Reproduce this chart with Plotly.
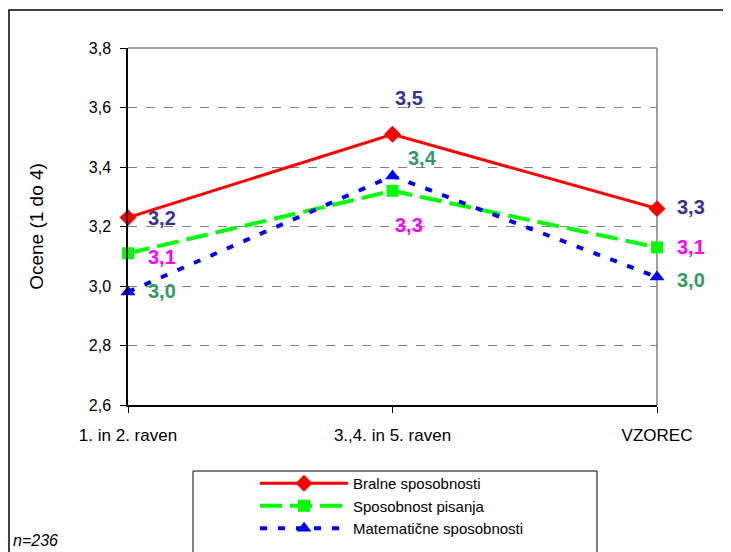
import plotly.graph_objects as go

categories = ["1. in 2. raven", "3.,4. in 5. raven", "VZOREC"]
series_names = ["Bralne sposobnosti", "Sposobnost pisanja", "Matematične sposobnosti"]
bralne = [3.23, 3.51, 3.26]
pisanje = [3.11, 3.32, 3.13]
matematika = [2.98, 3.37, 3.03]
y_ticks = [2.6, 2.8, 3.0, 3.2, 3.4, 3.6, 3.8]
note = "n=236"

W, H = 731, 552
S = 8  # page body offset
L, R, T, B = 128 - S, 657 - S, 48 - S, 405 - S

def fmt(v):
    return f"{v:.1f}".replace(".", ",")

FONT = "Liberation Sans, Arial"

fig = go.Figure()
styles = [
    dict(color="#FF0000", width=3, dash="solid", symbol="diamond", size=13),
    dict(color="#00FF00", width=4, dash="22px,8px", symbol="square", size=12),
    dict(color="#0000FF", width=4, dash="7px,11px", symbol="triangle-up", size=13),
]
xs = [0, 1, 2]
for name, vals, st in zip(series_names, [bralne, pisanje, matematika], styles):
    fig.add_trace(go.Scatter(
        x=xs, y=vals, name=name, mode="lines+markers",
        line=dict(color=st["color"], width=st["width"], dash=st["dash"]),
        marker=dict(symbol=st["symbol"], size=st["size"], color=st["color"]),
        cliponaxis=False,
    ))

label_colors = ["#333399", "#FF00FF", "#339966"]
offsets = [
    [(34, 0), (16, 36), (34, 2)],
    [(34, -4), (16, -34), (34, 0)],
    [(34, 1), (30, 18), (34, -3)],
]
for vals, col, offs in zip([bralne, pisanje, matematika], label_colors, offsets):
    for i, v in enumerate(vals):
        fig.add_annotation(
            x=xs[i], y=v, text="<b>" + fmt(v) + "</b>", showarrow=False,
            xshift=offs[i][0], yshift=offs[i][1],
            font=dict(family=FONT, size=20, color=col),
            xanchor="center", yanchor="middle",
        )

pw, ph = R - L, B - T
def px(x):
    return (x - S - L) / pw
def py(y):
    return (B - (y - S)) / ph

fig.add_shape(type="rect", xref="paper", yref="paper",
              x0=px(9), x1=px(745), y0=py(565), y1=py(10),
              line=dict(color="black", width=1.5), layer="below")
fig.add_shape(type="rect", xref="paper", yref="paper",
              x0=px(193), x1=px(597), y0=py(565), y1=py(471),
              line=dict(color="black", width=1), layer="below")
fig.add_shape(type="line", xref="paper", yref="paper", x0=0, x1=1, y0=1, y1=1,
              line=dict(color="#808080", width=1.5), layer="below")
fig.add_shape(type="line", xref="paper", yref="paper", x0=1, x1=1, y0=0, y1=1,
              line=dict(color="#808080", width=1.5), layer="below")

fig.add_annotation(text=f"<i>{note}</i>", xref="paper", yref="paper",
                   x=px(11), y=py(540), showarrow=False, xanchor="left", yanchor="middle",
                   font=dict(family=FONT, size=16, color="black"))

fig.update_layout(
    width=W, height=H,
    margin=dict(l=L, r=W - R, t=T, b=H - B, pad=0, autoexpand=False),
    paper_bgcolor="white", plot_bgcolor="white",
    font=dict(family=FONT, size=16, color="black"),
    showlegend=True,
    legend=dict(x=px(255), y=py(467), xanchor="left", yanchor="top",
                bgcolor="rgba(0,0,0,0)", borderwidth=0,
                font=dict(size=15), itemwidth=88, tracegroupgap=0),
    xaxis=dict(range=[0, 2], tickmode="array", tickvals=xs, ticktext=categories,
               showgrid=False, zeroline=False, showline=True, linecolor="black",
               linewidth=1.5, ticks="outside", ticklen=6, tickcolor="black",
               tickfont=dict(size=17), ticklabelstandoff=8, automargin=False),
    yaxis=dict(range=[2.6, 3.8], tickmode="array", tickvals=y_ticks,
               ticktext=[fmt(v) for v in y_ticks],
               showgrid=True, gridcolor="#808080", griddash="dash", gridwidth=1,
               zeroline=False, showline=True, linecolor="black", linewidth=1.5,
               ticks="outside", ticklen=6, tickcolor="black",
               tickfont=dict(size=16), ticklabelstandoff=6, automargin=False,
               title=dict(text="Ocene (1 do 4)", font=dict(size=19), standoff=40)),
)

fig.write_html("out.html")
